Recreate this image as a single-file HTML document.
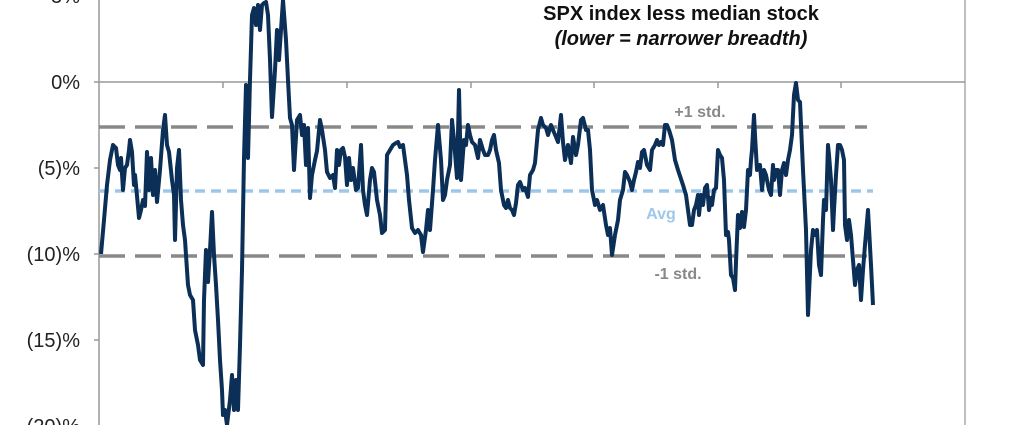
<!DOCTYPE html>
<html><head><meta charset="utf-8"><style>
html,body{margin:0;padding:0;background:#fff;}
svg{display:block;font-family:"Liberation Sans",Arial,sans-serif;}
</style></head><body>
<svg width="1035" height="425" viewBox="0 0 1035 425" xmlns="http://www.w3.org/2000/svg">
<rect width="1035" height="425" fill="#fff"/>
<line x1="99" y1="0" x2="99" y2="425" stroke="#999" stroke-width="1.5"/>
<line x1="965" y1="0" x2="965" y2="425" stroke="#aaa" stroke-width="1.5"/>
<g stroke="#999" stroke-width="1.5">
<line x1="94" y1="-4" x2="99" y2="-4"/><line x1="94" y1="82" x2="99" y2="82"/><line x1="94" y1="168" x2="99" y2="168"/><line x1="94" y1="254" x2="99" y2="254"/><line x1="94" y1="340" x2="99" y2="340"/>
<line x1="99" y1="82" x2="965" y2="82"/>
<line x1="223" y1="82" x2="223" y2="88"/><line x1="347" y1="82" x2="347" y2="88"/><line x1="471" y1="82" x2="471" y2="88"/><line x1="594" y1="82" x2="594" y2="88"/><line x1="718" y1="82" x2="718" y2="88"/><line x1="841" y1="82" x2="841" y2="88"/>
</g>
<g font-size="20" fill="#222" text-anchor="end">
<text x="80" y="3">5%</text>
<text x="80" y="89">0%</text>
<text x="80" y="175">(5)%</text>
<text x="80" y="261">(10)%</text>
<text x="80" y="347">(15)%</text>
<text x="80" y="433">(20)%</text>
</g>
<line x1="99" y1="127" x2="867" y2="127" stroke="#888" stroke-width="3.5" stroke-dasharray="26,10"/>
<line x1="99" y1="256" x2="867" y2="256" stroke="#888" stroke-width="3.5" stroke-dasharray="26,10"/>
<line x1="99" y1="191" x2="873" y2="191" stroke="#9ec8ea" stroke-width="3.5" stroke-dasharray="10,6"/>
<polyline fill="none" stroke="#0b2f56" stroke-width="4" stroke-linejoin="round" points="
101,254 104,220 107,185 110,160 113,145 116,148 118,165 120,170 121,158 123,190 125,168 127,165 129,150 130,140 132,152 134,185 135,175 137,196 139,218 141,210 143,200 145,206 147,152 149,190 151,158 153,195 155,170 157,202 160,170 163,130 165,115 167,145 169,152 172,180 174,195 175,240 177,168 179,150 181,200 183,225 185,240 188,285 190,295 193,300 195,330 198,345 200,360 203,365 204,300 206,250 208,282 210,250 212,212 214,255 216,285 218,320 220,360 222,390 223,415 225,410 227,425 230,400 232,375 234,410 236,380 238,410 240,345 242,270 244,158 246,85 248,158 250,80 252,15 254,8 256,25 258,5 260,30 262,5 264,3 266,2 268,15 270,60 272,117 275,70 277,30 279,60 281,30 283,0 286,40 288,80 290,118 292,125 294,170 297,120 300,115 302,135 304,125 306,165 308,128 310,198 312,175 315,160 317,151 320,120 322,130 325,150 327,172 330,178 333,175 335,188 337,150 339,165 341,150
343,148 345,157 347,185 349,158 351,180 353,168 356,190 358,188 361,145 363,190 365,205 367,215 370,180 372,168 374,172 377,200 380,215 382,233 385,230 387,155 390,150 393,145 396,143 398,142 400,147 403,145 407,175 409,200 412,228 415,233 418,230 421,235 423,252 426,230 428,210 430,230 433,190 435,160 438,125 441,160 443,200 445,195 447,180 450,165 452,120 454,140 457,178 459,90 461,180 464,140 466,145 468,125 470,135 472,142 475,145 478,158 480,140 483,150 485,155 488,155 490,150 492,140 494,135 496,150 499,163 501,190 504,205 506,208 508,200 510,208 512,210 514,215 516,203 518,185 520,182 523,190 525,188 528,197 530,175 533,170 535,163 538,130 541,118 543,125 546,128 548,135 551,125 553,130 556,137 558,142 561,115 563,142 565,160 568,145 571,163 573,137 576,155 578,145 581,120 583,118 586,130 588,130 590,150 592,190 595,205 597,200 600,210 603,205 606,225 608,235 610,228 612,255 615,235 618,220 620,200 623,190 625,172 627,175 630,182 632,190 634,180 636,172 638,162 640,168 642,152 644,150 647,165 650,170 652,150 655,145 657,140 659,145 661,142 663,145 665,125 667,125 669,130 672,140 675,160 678,170
683,185 686,195 690,225 692,225 694,210 696,205 698,195 699,215 701,195 703,205 705,188 707,185 709,210 711,198 712,205 714,190 716,188 718,150 720,155 722,158 724,180 726,235 728,232 729,240 731,275 733,278 735,290 736,262 738,215 740,228 742,212 744,227 746,210 748,170 750,175 751,160 752,150 754,115 755,135 757,170 760,165 762,190 764,170 766,175 769,190 771,195 773,165 774,180 776,170 778,170 780,195 782,170 784,163 786,175 788,160 790,150 792,135 794,95 796,83 798,100 800,102 803,170 806,230 808,315 811,250 813,230 815,235 817,230 819,265 821,275 823,220 824,200 826,210 828,145 829,155 831,180 833,230 834,210 836,175 838,145 840,145 842,150 844,160 845,225 847,240 849,220 851,235 853,260 855,285 857,270 859,265 861,300 863,270 865,245 868,210 871,265 873,305"/>
<g font-weight="bold" font-size="16">
<text x="700" y="117" fill="#888" text-anchor="middle">+1 std.</text>
<text x="661" y="219" fill="#9ec8ea" text-anchor="middle">Avg</text>
<text x="678" y="279" fill="#888" text-anchor="middle">-1 std.</text>
</g>
<text x="681" y="20" font-size="20" font-weight="bold" fill="#111" text-anchor="middle">SPX index less median stock</text>
<text x="681" y="45" font-size="20" font-weight="bold" font-style="italic" fill="#111" text-anchor="middle">(lower = narrower breadth)</text>
</svg>
</body></html>
